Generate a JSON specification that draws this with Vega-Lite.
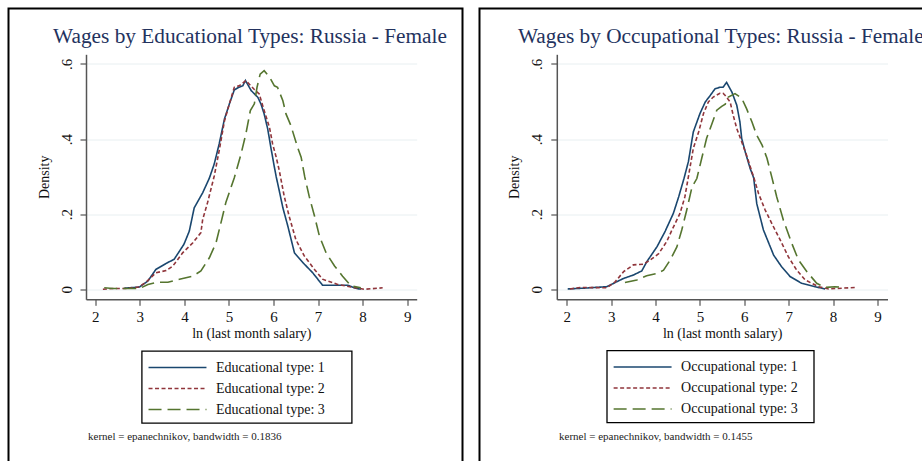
{
  "$schema": "https://vega.github.io/schema/vega-lite/v6.json",
  "padding": {"left": 7.5, "top": 7.5, "right": 0, "bottom": 0},
  "background": "white",
  "spacing": 15,
  "resolve": {"scale": {"color": "independent", "strokeDash": "independent"}, "legend": {"color": "independent", "strokeDash": "independent"}},
  "datasets": {
    "edu": [
      {"x": 2.65, "y": 0.003, "t": "Educational type: 1"}, {"x": 2.99, "y": 0.006, "t": "Educational type: 1"}, {"x": 3.18, "y": 0.022, "t": "Educational type: 1"}, {"x": 3.36, "y": 0.053, "t": "Educational type: 1"}, {"x": 3.59, "y": 0.069, "t": "Educational type: 1"}, {"x": 3.77, "y": 0.08, "t": "Educational type: 1"}, {"x": 3.99, "y": 0.12, "t": "Educational type: 1"}, {"x": 4.11, "y": 0.155, "t": "Educational type: 1"}, {"x": 4.22, "y": 0.217, "t": "Educational type: 1"}, {"x": 4.41, "y": 0.257, "t": "Educational type: 1"}, {"x": 4.56, "y": 0.296, "t": "Educational type: 1"}, {"x": 4.67, "y": 0.334, "t": "Educational type: 1"}, {"x": 4.78, "y": 0.387, "t": "Educational type: 1"}, {"x": 4.9, "y": 0.454, "t": "Educational type: 1"}, {"x": 5.01, "y": 0.494, "t": "Educational type: 1"}, {"x": 5.12, "y": 0.531, "t": "Educational type: 1"}, {"x": 5.22, "y": 0.538, "t": "Educational type: 1"}, {"x": 5.31, "y": 0.542, "t": "Educational type: 1"}, {"x": 5.37, "y": 0.556, "t": "Educational type: 1"}, {"x": 5.5, "y": 0.529, "t": "Educational type: 1"}, {"x": 5.65, "y": 0.511, "t": "Educational type: 1"}, {"x": 5.72, "y": 0.493, "t": "Educational type: 1"}, {"x": 5.79, "y": 0.467, "t": "Educational type: 1"}, {"x": 5.87, "y": 0.427, "t": "Educational type: 1"}, {"x": 5.94, "y": 0.378, "t": "Educational type: 1"}, {"x": 6.02, "y": 0.325, "t": "Educational type: 1"}, {"x": 6.06, "y": 0.3, "t": "Educational type: 1"}, {"x": 6.13, "y": 0.262, "t": "Educational type: 1"}, {"x": 6.21, "y": 0.217, "t": "Educational type: 1"}, {"x": 6.32, "y": 0.169, "t": "Educational type: 1"}, {"x": 6.47, "y": 0.097, "t": "Educational type: 1"}, {"x": 6.66, "y": 0.071, "t": "Educational type: 1"}, {"x": 6.88, "y": 0.044, "t": "Educational type: 1"}, {"x": 7.1, "y": 0.011, "t": "Educational type: 1"}, {"x": 7.67, "y": 0.011, "t": "Educational type: 1"}, {"x": 7.81, "y": 0.004, "t": "Educational type: 1"}, {"x": 7.96, "y": 0.0, "t": "Educational type: 1"},
      {"x": 2.17, "y": 0.0, "t": "Educational type: 2"}, {"x": 2.39, "y": 0.002, "t": "Educational type: 2"}, {"x": 2.69, "y": 0.002, "t": "Educational type: 2"}, {"x": 2.97, "y": 0.006, "t": "Educational type: 2"}, {"x": 3.14, "y": 0.019, "t": "Educational type: 2"}, {"x": 3.36, "y": 0.044, "t": "Educational type: 2"}, {"x": 3.59, "y": 0.05, "t": "Educational type: 2"}, {"x": 3.74, "y": 0.062, "t": "Educational type: 2"}, {"x": 3.96, "y": 0.097, "t": "Educational type: 2"}, {"x": 4.19, "y": 0.124, "t": "Educational type: 2"}, {"x": 4.37, "y": 0.151, "t": "Educational type: 2"}, {"x": 4.41, "y": 0.186, "t": "Educational type: 2"}, {"x": 4.52, "y": 0.231, "t": "Educational type: 2"}, {"x": 4.67, "y": 0.302, "t": "Educational type: 2"}, {"x": 4.78, "y": 0.369, "t": "Educational type: 2"}, {"x": 4.9, "y": 0.449, "t": "Educational type: 2"}, {"x": 5.01, "y": 0.494, "t": "Educational type: 2"}, {"x": 5.12, "y": 0.538, "t": "Educational type: 2"}, {"x": 5.23, "y": 0.542, "t": "Educational type: 2"}, {"x": 5.38, "y": 0.556, "t": "Educational type: 2"}, {"x": 5.57, "y": 0.532, "t": "Educational type: 2"}, {"x": 5.68, "y": 0.52, "t": "Educational type: 2"}, {"x": 5.79, "y": 0.476, "t": "Educational type: 2"}, {"x": 5.91, "y": 0.431, "t": "Educational type: 2"}, {"x": 5.98, "y": 0.387, "t": "Educational type: 2"}, {"x": 6.06, "y": 0.352, "t": "Educational type: 2"}, {"x": 6.13, "y": 0.316, "t": "Educational type: 2"}, {"x": 6.24, "y": 0.248, "t": "Educational type: 2"}, {"x": 6.35, "y": 0.195, "t": "Educational type: 2"}, {"x": 6.5, "y": 0.133, "t": "Educational type: 2"}, {"x": 6.69, "y": 0.089, "t": "Educational type: 2"}, {"x": 6.92, "y": 0.053, "t": "Educational type: 2"}, {"x": 7.1, "y": 0.027, "t": "Educational type: 2"}, {"x": 7.44, "y": 0.013, "t": "Educational type: 2"}, {"x": 7.74, "y": 0.006, "t": "Educational type: 2"}, {"x": 8.04, "y": 0.0, "t": "Educational type: 2"}, {"x": 8.45, "y": 0.004, "t": "Educational type: 2"},
      {"x": 2.2, "y": 0.004, "t": "Educational type: 3"}, {"x": 2.39, "y": 0.002, "t": "Educational type: 3"}, {"x": 2.69, "y": 0.002, "t": "Educational type: 3"}, {"x": 2.99, "y": 0.002, "t": "Educational type: 3"}, {"x": 3.18, "y": 0.013, "t": "Educational type: 3"}, {"x": 3.4, "y": 0.019, "t": "Educational type: 3"}, {"x": 3.63, "y": 0.019, "t": "Educational type: 3"}, {"x": 3.89, "y": 0.027, "t": "Educational type: 3"}, {"x": 4.19, "y": 0.035, "t": "Educational type: 3"}, {"x": 4.37, "y": 0.049, "t": "Educational type: 3"}, {"x": 4.56, "y": 0.084, "t": "Educational type: 3"}, {"x": 4.71, "y": 0.124, "t": "Educational type: 3"}, {"x": 4.82, "y": 0.177, "t": "Educational type: 3"}, {"x": 4.93, "y": 0.231, "t": "Educational type: 3"}, {"x": 5.12, "y": 0.297, "t": "Educational type: 3"}, {"x": 5.27, "y": 0.36, "t": "Educational type: 3"}, {"x": 5.38, "y": 0.414, "t": "Educational type: 3"}, {"x": 5.48, "y": 0.476, "t": "Educational type: 3"}, {"x": 5.57, "y": 0.494, "t": "Educational type: 3"}, {"x": 5.63, "y": 0.538, "t": "Educational type: 3"}, {"x": 5.7, "y": 0.573, "t": "Educational type: 3"}, {"x": 5.79, "y": 0.582, "t": "Educational type: 3"}, {"x": 5.91, "y": 0.565, "t": "Educational type: 3"}, {"x": 6.02, "y": 0.542, "t": "Educational type: 3"}, {"x": 6.09, "y": 0.538, "t": "Educational type: 3"}, {"x": 6.21, "y": 0.502, "t": "Educational type: 3"}, {"x": 6.28, "y": 0.467, "t": "Educational type: 3"}, {"x": 6.39, "y": 0.436, "t": "Educational type: 3"}, {"x": 6.54, "y": 0.378, "t": "Educational type: 3"}, {"x": 6.62, "y": 0.352, "t": "Educational type: 3"}, {"x": 6.7, "y": 0.3, "t": "Educational type: 3"}, {"x": 6.8, "y": 0.248, "t": "Educational type: 3"}, {"x": 6.92, "y": 0.195, "t": "Educational type: 3"}, {"x": 7.03, "y": 0.142, "t": "Educational type: 3"}, {"x": 7.18, "y": 0.097, "t": "Educational type: 3"}, {"x": 7.37, "y": 0.062, "t": "Educational type: 3"}, {"x": 7.55, "y": 0.035, "t": "Educational type: 3"}, {"x": 7.74, "y": 0.009, "t": "Educational type: 3"}, {"x": 7.96, "y": 0.004, "t": "Educational type: 3"}
    ],
    "occ": [
      {"x": 2.02, "y": 0.001, "t": "Occupational type: 1"}, {"x": 2.38, "y": 0.003, "t": "Occupational type: 1"}, {"x": 2.9, "y": 0.007, "t": "Occupational type: 1"}, {"x": 3.09, "y": 0.018, "t": "Occupational type: 1"}, {"x": 3.28, "y": 0.029, "t": "Occupational type: 1"}, {"x": 3.5, "y": 0.038, "t": "Occupational type: 1"}, {"x": 3.69, "y": 0.049, "t": "Occupational type: 1"}, {"x": 3.8, "y": 0.073, "t": "Occupational type: 1"}, {"x": 4.03, "y": 0.113, "t": "Occupational type: 1"}, {"x": 4.21, "y": 0.153, "t": "Occupational type: 1"}, {"x": 4.4, "y": 0.202, "t": "Occupational type: 1"}, {"x": 4.52, "y": 0.246, "t": "Occupational type: 1"}, {"x": 4.64, "y": 0.295, "t": "Occupational type: 1"}, {"x": 4.74, "y": 0.34, "t": "Occupational type: 1"}, {"x": 4.85, "y": 0.419, "t": "Occupational type: 1"}, {"x": 5.0, "y": 0.468, "t": "Occupational type: 1"}, {"x": 5.12, "y": 0.499, "t": "Occupational type: 1"}, {"x": 5.23, "y": 0.516, "t": "Occupational type: 1"}, {"x": 5.34, "y": 0.534, "t": "Occupational type: 1"}, {"x": 5.45, "y": 0.538, "t": "Occupational type: 1"}, {"x": 5.52, "y": 0.538, "t": "Occupational type: 1"}, {"x": 5.6, "y": 0.551, "t": "Occupational type: 1"}, {"x": 5.72, "y": 0.525, "t": "Occupational type: 1"}, {"x": 5.83, "y": 0.49, "t": "Occupational type: 1"}, {"x": 5.9, "y": 0.446, "t": "Occupational type: 1"}, {"x": 5.94, "y": 0.402, "t": "Occupational type: 1"}, {"x": 6.02, "y": 0.366, "t": "Occupational type: 1"}, {"x": 6.13, "y": 0.322, "t": "Occupational type: 1"}, {"x": 6.21, "y": 0.297, "t": "Occupational type: 1"}, {"x": 6.28, "y": 0.228, "t": "Occupational type: 1"}, {"x": 6.43, "y": 0.158, "t": "Occupational type: 1"}, {"x": 6.66, "y": 0.091, "t": "Occupational type: 1"}, {"x": 6.84, "y": 0.06, "t": "Occupational type: 1"}, {"x": 7.03, "y": 0.034, "t": "Occupational type: 1"}, {"x": 7.29, "y": 0.016, "t": "Occupational type: 1"}, {"x": 7.59, "y": 0.007, "t": "Occupational type: 1"}, {"x": 7.82, "y": 0.001, "t": "Occupational type: 1"},
      {"x": 2.07, "y": 0.001, "t": "Occupational type: 2"}, {"x": 2.3, "y": 0.005, "t": "Occupational type: 2"}, {"x": 2.9, "y": 0.004, "t": "Occupational type: 2"}, {"x": 3.09, "y": 0.02, "t": "Occupational type: 2"}, {"x": 3.28, "y": 0.047, "t": "Occupational type: 2"}, {"x": 3.5, "y": 0.065, "t": "Occupational type: 2"}, {"x": 3.73, "y": 0.067, "t": "Occupational type: 2"}, {"x": 3.88, "y": 0.078, "t": "Occupational type: 2"}, {"x": 4.07, "y": 0.095, "t": "Occupational type: 2"}, {"x": 4.25, "y": 0.127, "t": "Occupational type: 2"}, {"x": 4.37, "y": 0.158, "t": "Occupational type: 2"}, {"x": 4.55, "y": 0.202, "t": "Occupational type: 2"}, {"x": 4.66, "y": 0.246, "t": "Occupational type: 2"}, {"x": 4.74, "y": 0.3, "t": "Occupational type: 2"}, {"x": 4.85, "y": 0.375, "t": "Occupational type: 2"}, {"x": 4.97, "y": 0.419, "t": "Occupational type: 2"}, {"x": 5.08, "y": 0.468, "t": "Occupational type: 2"}, {"x": 5.19, "y": 0.499, "t": "Occupational type: 2"}, {"x": 5.3, "y": 0.512, "t": "Occupational type: 2"}, {"x": 5.45, "y": 0.522, "t": "Occupational type: 2"}, {"x": 5.52, "y": 0.522, "t": "Occupational type: 2"}, {"x": 5.57, "y": 0.516, "t": "Occupational type: 2"}, {"x": 5.68, "y": 0.499, "t": "Occupational type: 2"}, {"x": 5.75, "y": 0.463, "t": "Occupational type: 2"}, {"x": 5.83, "y": 0.428, "t": "Occupational type: 2"}, {"x": 5.94, "y": 0.393, "t": "Occupational type: 2"}, {"x": 6.05, "y": 0.357, "t": "Occupational type: 2"}, {"x": 6.17, "y": 0.313, "t": "Occupational type: 2"}, {"x": 6.21, "y": 0.299, "t": "Occupational type: 2"}, {"x": 6.32, "y": 0.255, "t": "Occupational type: 2"}, {"x": 6.47, "y": 0.211, "t": "Occupational type: 2"}, {"x": 6.62, "y": 0.175, "t": "Occupational type: 2"}, {"x": 6.81, "y": 0.131, "t": "Occupational type: 2"}, {"x": 6.99, "y": 0.087, "t": "Occupational type: 2"}, {"x": 7.18, "y": 0.051, "t": "Occupational type: 2"}, {"x": 7.37, "y": 0.025, "t": "Occupational type: 2"}, {"x": 7.67, "y": 0.007, "t": "Occupational type: 2"}, {"x": 7.9, "y": 0.001, "t": "Occupational type: 2"}, {"x": 8.5, "y": 0.005, "t": "Occupational type: 2"},
      {"x": 3.31, "y": 0.018, "t": "Occupational type: 3"}, {"x": 3.58, "y": 0.025, "t": "Occupational type: 3"}, {"x": 3.8, "y": 0.036, "t": "Occupational type: 3"}, {"x": 4.03, "y": 0.042, "t": "Occupational type: 3"}, {"x": 4.18, "y": 0.051, "t": "Occupational type: 3"}, {"x": 4.33, "y": 0.078, "t": "Occupational type: 3"}, {"x": 4.48, "y": 0.113, "t": "Occupational type: 3"}, {"x": 4.59, "y": 0.158, "t": "Occupational type: 3"}, {"x": 4.7, "y": 0.21, "t": "Occupational type: 3"}, {"x": 4.82, "y": 0.272, "t": "Occupational type: 3"}, {"x": 4.93, "y": 0.295, "t": "Occupational type: 3"}, {"x": 5.04, "y": 0.349, "t": "Occupational type: 3"}, {"x": 5.15, "y": 0.402, "t": "Occupational type: 3"}, {"x": 5.27, "y": 0.441, "t": "Occupational type: 3"}, {"x": 5.38, "y": 0.477, "t": "Occupational type: 3"}, {"x": 5.49, "y": 0.487, "t": "Occupational type: 3"}, {"x": 5.57, "y": 0.493, "t": "Occupational type: 3"}, {"x": 5.64, "y": 0.512, "t": "Occupational type: 3"}, {"x": 5.79, "y": 0.521, "t": "Occupational type: 3"}, {"x": 5.94, "y": 0.509, "t": "Occupational type: 3"}, {"x": 6.05, "y": 0.481, "t": "Occupational type: 3"}, {"x": 6.17, "y": 0.446, "t": "Occupational type: 3"}, {"x": 6.28, "y": 0.41, "t": "Occupational type: 3"}, {"x": 6.4, "y": 0.384, "t": "Occupational type: 3"}, {"x": 6.51, "y": 0.349, "t": "Occupational type: 3"}, {"x": 6.62, "y": 0.298, "t": "Occupational type: 3"}, {"x": 6.73, "y": 0.246, "t": "Occupational type: 3"}, {"x": 6.88, "y": 0.184, "t": "Occupational type: 3"}, {"x": 7.07, "y": 0.122, "t": "Occupational type: 3"}, {"x": 7.22, "y": 0.078, "t": "Occupational type: 3"}, {"x": 7.41, "y": 0.047, "t": "Occupational type: 3"}, {"x": 7.63, "y": 0.016, "t": "Occupational type: 3"}, {"x": 7.82, "y": 0.005, "t": "Occupational type: 3"}, {"x": 8.04, "y": 0.007, "t": "Occupational type: 3"}, {"x": 8.27, "y": 0.005, "t": "Occupational type: 3"}
    ]
  },
  "hconcat": [
    {
      "title": {"text": "Wages by Educational Types: Russia - Female", "frame": "bounds", "anchor": "middle", "offset": -57, "dx": 14.5, "baseline": "alphabetic", "fontSize": 21.3, "fontWeight": "normal", "font": "Liberation Serif", "color": "#23325e"},
      "vconcat": [
        {
          "width": 454, "height": 455,
          "title": {"text": "kernel = epanechnikov, bandwidth = 0.1836", "orient": "bottom", "anchor": "start", "frame": "bounds", "offset": -23.5, "dx": 79.5, "baseline": "alphabetic", "fontSize": 11, "fontWeight": "normal", "font": "Liberation Serif", "color": "#222"},
          "data": {"name": "edu"},
          "mark": {"type": "line", "strokeWidth": 1.6},
          "encoding": {
            "x": {"field": "x", "type": "quantitative", "scale": {"domain": [1.791, 9.214], "range": [77.5, 408.2], "nice": false, "zero": false},
                  "axis": {"title": "ln (last month salary)", "offset": -164.2, "values": [2, 3, 4, 5, 6, 7, 8, 9], "format": "d", "grid": false, "labelPadding": 4, "titlePadding": 2}},
            "y": {"field": "y", "type": "quantitative", "scale": {"domain": [-0.0266, 0.6258], "range": [290.8, 45.8], "nice": false, "zero": false},
                  "axis": {"title": "Density", "offset": -77.5, "values": [0, 0.2, 0.4, 0.6], "labelExpr": "datum.value == 0 ? '0' : replace(format(datum.value, '.1f'), '0.', '.')", "labelAngle": 270, "labelAlign": "center", "labelBaseline": "bottom", "labelPadding": 6, "titlePadding": 8, "grid": true}},
            "color": {"field": "t", "type": "nominal", "scale": {"range": ["#1a476f", "#90353b", "#55752f"]}, "legend": {"title": null, "legendX": 133.2, "legendY": 342.5, "labelExpr": "datum.label + '\u2800\u2800'"}},
            "strokeDash": {"field": "t", "type": "nominal", "scale": {"range": [[1, 0], [4, 2.5], [13, 6]]}, "legend": {"title": null, "legendX": 133.2, "legendY": 342.5, "labelExpr": "datum.label + '\u2800\u2800'"}}
          }
        }
      ]
    },
    {
      "title": {"text": "Wages by Occupational Types: Russia - Female", "frame": "bounds", "anchor": "middle", "offset": -57, "dx": 14.3, "baseline": "alphabetic", "fontSize": 21.3, "fontWeight": "normal", "font": "Liberation Serif", "color": "#23325e"},
      "vconcat": [
        {
          "width": 454, "height": 455,
          "title": {"text": "kernel = epanechnikov, bandwidth = 0.1455", "orient": "bottom", "anchor": "start", "frame": "bounds", "offset": -23.5, "dx": 79.5, "baseline": "alphabetic", "fontSize": 11, "fontWeight": "normal", "font": "Liberation Serif", "color": "#222"},
          "data": {"name": "occ"},
          "mark": {"type": "line", "strokeWidth": 1.6},
          "encoding": {
            "x": {"field": "x", "type": "quantitative", "scale": {"domain": [1.775, 9.225], "range": [77.3, 408], "nice": false, "zero": false},
                  "axis": {"title": "ln (last month salary)", "offset": -164.2, "values": [2, 3, 4, 5, 6, 7, 8, 9], "format": "d", "grid": false, "labelPadding": 4, "titlePadding": 2}},
            "y": {"field": "y", "type": "quantitative", "scale": {"domain": [-0.0266, 0.6258], "range": [290.8, 45.8], "nice": false, "zero": false},
                  "axis": {"title": "Density", "offset": -77.3, "values": [0, 0.2, 0.4, 0.6], "labelExpr": "datum.value == 0 ? '0' : replace(format(datum.value, '.1f'), '0.', '.')", "labelAngle": 270, "labelAlign": "center", "labelBaseline": "bottom", "labelPadding": 6, "titlePadding": 8, "grid": true}},
            "color": {"field": "t", "type": "nominal", "scale": {"range": ["#1a476f", "#90353b", "#55752f"]}, "legend": {"title": null, "legendX": 127.3, "legendY": 342, "labelExpr": "datum.label + '\u2800'"}},
            "strokeDash": {"field": "t", "type": "nominal", "scale": {"range": [[1, 0], [4, 2.5], [13, 6]]}, "legend": {"title": null, "legendX": 127.3, "legendY": 342, "labelExpr": "datum.label + '\u2800'"}}
          }
        }
      ]
    }
  ],
  "config": {
    "font": "Liberation Serif",
    "view": {"stroke": "black", "strokeWidth": 2, "fill": "white"},
    "axis": {"domainColor": "#555555", "domainWidth": 1.5, "tickColor": "#333333", "tickSize": 6, "tickWidth": 1, "labelFont": "Liberation Serif", "labelFontSize": 15, "labelColor": "#111111", "titleFont": "Liberation Serif", "titleFontSize": 14, "titleFontWeight": "normal", "titleColor": "#111111", "gridColor": "#e8eff1", "gridWidth": 1},
    "legend": {"orient": "none", "strokeColor": "black", "strokeWidth": 1.3, "padding": 6, "symbolType": "M-3,0H3", "symbolSize": 373, "symbolOffset": 19.3, "symbolStrokeWidth": 1.6, "symbolFillColor": "transparent", "labelFont": "Liberation Serif", "labelFontSize": 14, "labelColor": "#111111", "labelOffset": 28, "labelLimit": 400, "rowPadding": 3}
  }
}
